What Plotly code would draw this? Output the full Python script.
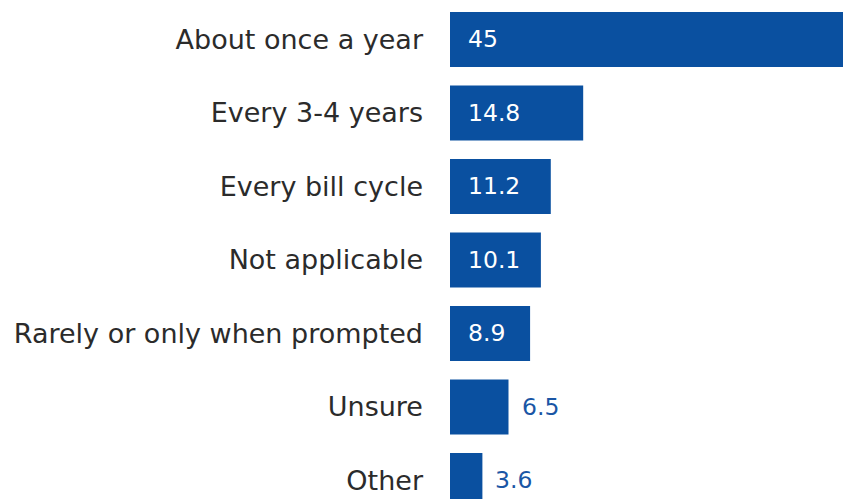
import plotly.graph_objects as go

categories = ["About once a year", "Every 3-4 years", "Every bill cycle", "Not applicable",
              "Rarely or only when prompted", "Unsure", "Other"]
values = [45, 14.8, 11.2, 10.1, 8.9, 6.5, 3.6]
labels = ["45", "14.8", "11.2", "10.1", "8.9", "6.5", "3.6"]

BAR = "#0a50a0"
FONT = "DejaVu Sans"
INSIDE_MIN = 8

fig = go.Figure()
fig.add_trace(go.Bar(
    y=categories, x=values, orientation="h",
    marker=dict(color=BAR, line=dict(width=0)),
    width=0.75, hoverinfo="skip",
))

for c, v, t in zip(categories, values, labels):
    if v >= INSIDE_MIN:
        fig.add_annotation(x=0, y=c, text=t, showarrow=False, xanchor="left",
                           xshift=16, font=dict(family=FONT, size=23.5, color="white"))
    else:
        fig.add_annotation(x=v, y=c, text=t, showarrow=False, xanchor="left",
                           xshift=11, font=dict(family=FONT, size=23.5, color="#1a56a5"))

fig.update_layout(
    width=843, height=499,
    margin=dict(l=450, r=0, t=0, b=0),
    paper_bgcolor="white", plot_bgcolor="white",
    showlegend=False,
    font=dict(family=FONT),
    xaxis=dict(range=[0, 43.67], visible=False, fixedrange=True),
    yaxis=dict(range=[6.252, -0.537], showgrid=False, zeroline=False, showline=False,
               ticks="", ticklabelstandoff=26,
               tickfont=dict(family=FONT, size=27, color="#2b2b2b")),
)

fig.write_html("out.html")
